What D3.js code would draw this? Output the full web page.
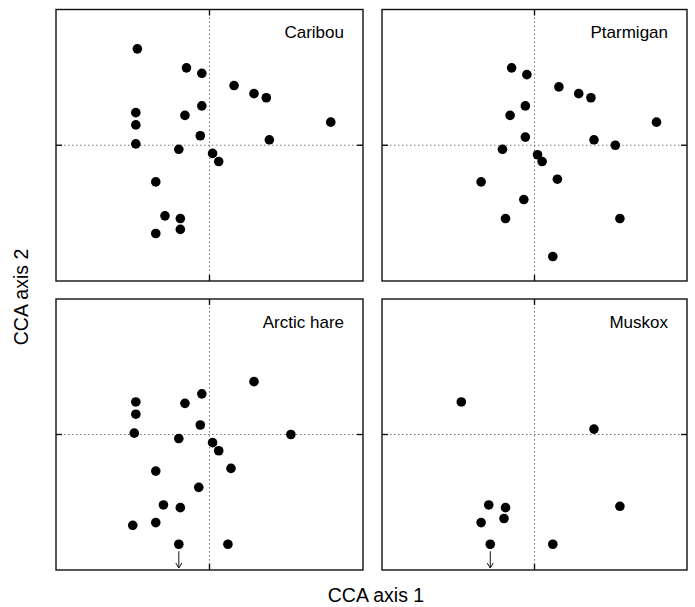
<!DOCTYPE html>
<html>
<head>
<meta charset="utf-8">
<script src="https://cdn.jsdelivr.net/npm/d3@7"></script>
<style>
  body { margin: 0; background: #fff; }
  svg { display: block; font-family: "Liberation Sans", Arial, sans-serif; }
  .frame { fill: none; stroke: #111; stroke-width: 1.4; }
  .zero { stroke: #777; stroke-width: 1; stroke-dasharray: 1.5,2.5; }
  .tick { stroke: #111; stroke-width: 1.4; }
  .dot { fill: #000; }
  .panel-label { font-size: 17px; fill: #000; }
  .axis-label { font-size: 19.5px; fill: #000; }
</style>
</head>
<body>
<svg id="chart" width="695" height="607"></svg>
<script>
// CCA scores, both axes roughly -1..1
const caribou = [
  [-0.47, 0.71], [-0.15, 0.57], [-0.05, 0.53], [0.16, 0.44], [0.29, 0.38],
  [0.37, 0.35], [0.79, 0.17], [-0.48, 0.24], [-0.48, 0.15], [-0.05, 0.29],
  [-0.16, 0.22], [-0.06, 0.07], [0.39, 0.04], [-0.48, 0.01], [-0.20, -0.03],
  [0.02, -0.06], [0.06, -0.12], [-0.35, -0.27], [-0.29, -0.52], [-0.19, -0.54],
  [-0.19, -0.62], [-0.35, -0.65]
];
const ptarmigan = [
  [-0.15, 0.57], [-0.05, 0.52], [0.16, 0.43], [0.29, 0.38], [0.37, 0.35],
  [0.80, 0.17], [-0.06, 0.29], [-0.16, 0.22], [-0.06, 0.06], [0.39, 0.04],
  [0.53, 0.0], [-0.21, -0.03], [0.02, -0.07], [0.05, -0.12], [-0.35, -0.27],
  [0.15, -0.25], [-0.07, -0.40], [-0.19, -0.54], [0.56, -0.54], [0.12, -0.82]
];
const arcticHare = [
  [0.29, 0.39], [-0.05, 0.30], [-0.48, 0.24], [-0.16, 0.23], [-0.48, 0.15],
  [-0.06, 0.07], [-0.49, 0.01], [-0.20, -0.03], [0.53, 0.0], [0.02, -0.06],
  [0.06, -0.12], [0.14, -0.25], [-0.35, -0.27], [-0.07, -0.39], [-0.30, -0.52],
  [-0.19, -0.54], [-0.50, -0.67], [-0.35, -0.65], [-0.20, -0.81], [0.12, -0.81]
];
const muskox = [
  [-0.48, 0.24], [0.39, 0.04], [-0.30, -0.52], [-0.19, -0.54], [-0.20, -0.62],
  [-0.35, -0.65], [0.56, -0.53], [-0.29, -0.81], [0.12, -0.81]
];

const panelNames = ["Caribou", "Ptarmigan", "Arctic hare", "Muskox"];
// points that fall off the bottom of the plot get a down arrow
const arrowPoints = [[], [], [[-0.20, -0.81]], [[-0.29, -0.81]]];
const panelData = [caribou, ptarmigan, arcticHare, muskox];

const svg = d3.select("#chart");

const panels = [
  { x: 56, y: 9.5, w: 307, h: 271.5 },
  { x: 382, y: 9.5, w: 305, h: 271.5 },
  { x: 56, y: 299, w: 307, h: 271 },
  { x: 382, y: 299, w: 305, h: 271 }
];

const tickLen = 6;

panels.forEach((p, i) => {
  const g = svg.append("g").attr("transform", `translate(${p.x},${p.y})`);
  const x = d3.scaleLinear().domain([-1, 1]).range([0, p.w]);
  const y = d3.scaleLinear().domain([-1, 1]).range([p.h, 0]);

  // dotted zero lines
  g.append("line").attr("class", "zero")
    .attr("x1", x(0)).attr("x2", x(0)).attr("y1", 0).attr("y2", p.h);
  g.append("line").attr("class", "zero")
    .attr("x1", 0).attr("x2", p.w).attr("y1", y(0)).attr("y2", y(0));

  // small inward ticks at zero
  [[x(0), 0, x(0), tickLen], [x(0), p.h, x(0), p.h - tickLen],
   [0, y(0), tickLen, y(0)], [p.w, y(0), p.w - tickLen, y(0)]].forEach((t) => {
    g.append("line").attr("class", "tick")
      .attr("x1", t[0]).attr("y1", t[1]).attr("x2", t[2]).attr("y2", t[3]);
  });

  g.append("rect").attr("class", "frame")
    .attr("x", 0).attr("y", 0).attr("width", p.w).attr("height", p.h);

  g.selectAll(".dot")
    .data(panelData[i])
    .enter()
    .append("circle")
    .attr("class", "dot")
    .attr("cx", (d) => x(d[0]))
    .attr("cy", (d) => y(d[1]))
    .attr("r", 4.8);

  arrowPoints[i].forEach((d) => {
    const ax = x(d[0]);
    const top = y(d[1]) + 7;
    const bot = p.h - 2;
    g.append("line")
      .attr("x1", ax).attr("x2", ax).attr("y1", top).attr("y2", bot)
      .attr("stroke", "#111").attr("stroke-width", 1);
    g.append("path")
      .attr("d", `M${ax - 3},${bot - 5} L${ax},${bot} L${ax + 3},${bot - 5}`)
      .attr("fill", "none").attr("stroke", "#111").attr("stroke-width", 1);
  });

  g.append("text")
    .attr("class", "panel-label")
    .attr("x", p.w - 19)
    .attr("y", 28.5)
    .attr("text-anchor", "end")
    .text(panelNames[i]);
});

svg.append("text")
  .attr("class", "axis-label")
  .attr("x", 376)
  .attr("y", 602)
  .attr("text-anchor", "middle")
  .text("CCA axis 1");

svg.append("text")
  .attr("class", "axis-label")
  .attr("transform", "translate(28,297) rotate(-90)")
  .attr("text-anchor", "middle")
  .text("CCA axis 2");
</script>
</body>
</html>
